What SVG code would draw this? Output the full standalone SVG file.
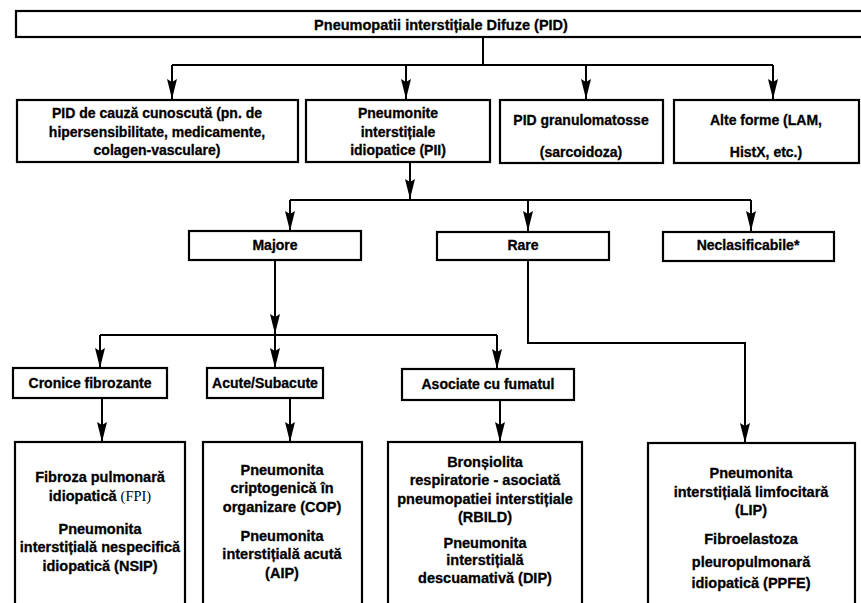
<svg xmlns="http://www.w3.org/2000/svg" width="861" height="603" viewBox="0 0 861 603">
<style>
.box{fill:#fff;stroke:#000;stroke-width:2.2}
.t{font-family:"Liberation Sans",Arial,sans-serif;font-weight:bold;font-size:14px;fill:#000;stroke:#000;stroke-width:0.3;text-anchor:middle}
.b{font-size:14.5px}
.c{fill:none;stroke:#000;stroke-width:2}
.s{font-family:"Liberation Serif","Times New Roman",serif;font-weight:normal;stroke-width:0}
</style>
<defs>
<marker id="ah" markerUnits="userSpaceOnUse" viewBox="0 0 20 10" refX="20" refY="5" markerWidth="20" markerHeight="10" orient="auto">
<path d="M0,0 L20,5 L0,10 L3,5 z" fill="#000"/>
</marker>
</defs>
<rect width="861" height="603" fill="#fff"/>
<g id="connectors">
<path class="c" d="M483,37 V65 M172,65 H773"/>
<path class="c" d="M172,65 V99" marker-end="url(#ah)"/>
<path class="c" d="M406,65 V99" marker-end="url(#ah)"/>
<path class="c" d="M586,65 V99" marker-end="url(#ah)"/>
<path class="c" d="M773,65 V99" marker-end="url(#ah)"/>
<path class="c" d="M410,163 V199" marker-end="url(#ah)"/>
<path class="c" d="M290,200 H751"/>
<path class="c" d="M290,200 V231" marker-end="url(#ah)"/>
<path class="c" d="M528,200 V231" marker-end="url(#ah)"/>
<path class="c" d="M751,200 V231" marker-end="url(#ah)"/>
<path class="c" d="M275,260 V334" marker-end="url(#ah)"/>
<path class="c" d="M100,335 H497"/>
<path class="c" d="M100,335 V368" marker-end="url(#ah)"/>
<path class="c" d="M275,335 V368" marker-end="url(#ah)"/>
<path class="c" d="M497,335 V369" marker-end="url(#ah)"/>
<path class="c" d="M102,398 V442" marker-end="url(#ah)"/>
<path class="c" d="M290,398 V442" marker-end="url(#ah)"/>
<path class="c" d="M500,400 V442" marker-end="url(#ah)"/>
<path class="c" d="M528,260 V343 H745 V443" marker-end="url(#ah)"/>
</g>
<g id="pid">
<rect class="box" x="16" y="11" width="860" height="26"/>
<text class="t" x="441" y="30" style="font-size:14.5px">Pneumopatii interstițiale Difuze (PID)</text>
</g>
<g id="cauza">
<rect class="box" x="17" y="100" width="281" height="62"/>
<text class="t" x="157" y="118">PID de cauză cunoscută (pn. de</text>
<text class="t" x="157" y="137">hipersensibilitate, medicamente,</text>
<text class="t" x="157" y="155">colagen-vasculare)</text>
</g>
<g id="pii">
<rect class="box" x="306" y="100" width="184" height="62"/>
<text class="t" x="398" y="118">Pneumonite</text>
<text class="t" x="398" y="137">interstițiale</text>
<text class="t" x="398" y="155">idiopatice (PII)</text>
</g>
<g id="granulo">
<rect class="box" x="500" y="100" width="163" height="63"/>
<text class="t" x="581" y="125">PID granulomatosse</text>
<text class="t" x="581" y="157">(sarcoidoza)</text>
</g>
<g id="alte">
<rect class="box" x="674" y="100" width="185" height="63"/>
<text class="t" x="766" y="125">Alte forme (LAM,</text>
<text class="t" x="766" y="157">HistX, etc.)</text>
</g>
<g id="majore">
<rect class="box" x="189" y="231" width="172" height="29"/>
<text class="t" x="275" y="250">Majore</text>
</g>
<g id="rare">
<rect class="box" x="437" y="232" width="172" height="28"/>
<text class="t" x="523" y="250">Rare</text>
</g>
<g id="neclas">
<rect class="box" x="663" y="232" width="171" height="29"/>
<text class="t" x="748" y="250">Neclasificabile*</text>
</g>
<g id="cronice">
<rect class="box" x="13" y="368" width="154" height="30"/>
<text class="t" x="90" y="388">Cronice fibrozante</text>
</g>
<g id="acute">
<rect class="box" x="207" y="368" width="116" height="30"/>
<text class="t" x="265" y="388">Acute/Subacute</text>
</g>
<g id="asociate">
<rect class="box" x="402" y="369" width="172" height="31"/>
<text class="t" x="488" y="389">Asociate cu fumatul</text>
</g>
<g id="fpi">
<rect class="box" x="15" y="442" width="170" height="170"/>
<text class="t b" x="100" y="482">Fibroza pulmonară</text>
<text class="t b" x="100" y="501">idiopatică <tspan class="s">(FPI)</tspan></text>
<text class="t b" x="100" y="534">Pneumonita</text>
<text class="t b" x="100" y="552">interstițială nespecifică</text>
<text class="t b" x="100" y="571">idiopatică (NSIP)</text>
</g>
<g id="cop">
<rect class="box" x="203" y="442" width="159" height="170"/>
<text class="t b" x="282" y="475">Pneumonita</text>
<text class="t b" x="282" y="493">criptogenică în</text>
<text class="t b" x="282" y="512">organizare (COP)</text>
<text class="t b" x="282" y="541">Pneumonita</text>
<text class="t b" x="282" y="559">interstițială acută</text>
<text class="t b" x="282" y="578">(AIP)</text>
</g>
<g id="rbild">
<rect class="box" x="388" y="442" width="194" height="170"/>
<text class="t b" x="485" y="467">Bronșiolita</text>
<text class="t b" x="485" y="485">respiratorie - asociată</text>
<text class="t b" x="485" y="504">pneumopatiei interstițiale</text>
<text class="t b" x="485" y="522">(RBILD)</text>
<text class="t b" x="485" y="548">Pneumonita</text>
<text class="t b" x="485" y="565">interstițială</text>
<text class="t b" x="485" y="583">descuamativă (DIP)</text>
</g>
<g id="lip">
<rect class="box" x="648" y="443" width="207" height="170"/>
<text class="t b" x="751" y="478">Pneumonita</text>
<text class="t b" x="751" y="497">interstițială limfocitară</text>
<text class="t b" x="751" y="515">(LIP)</text>
<text class="t b" x="751" y="544">Fibroelastoza</text>
<text class="t b" x="751" y="567">pleuropulmonară</text>
<text class="t b" x="751" y="588">idiopatică  (PPFE)</text>
</g>
</svg>
